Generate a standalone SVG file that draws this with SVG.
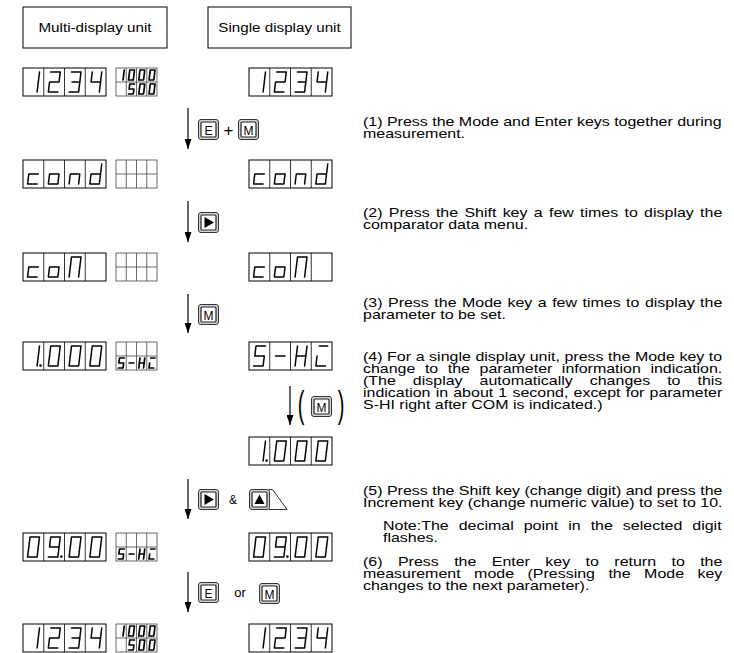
<svg xmlns="http://www.w3.org/2000/svg" xmlns:xlink="http://www.w3.org/1999/xlink" width="734" height="653" viewBox="0 0 734 653">
<style>
.t{font-family:"Liberation Sans",Arial,sans-serif;font-size:12.6px;fill:#000}
.hd{font-family:"Liberation Sans",Arial,sans-serif;font-size:13.3px;fill:#000;text-anchor:middle}
.box{fill:none;stroke:#000;stroke-width:1}
.disp{fill:#fff;stroke:#000;stroke-width:1}
.dv{stroke:#000;stroke-width:0.8}
.aux{fill:#fff;stroke:#444;stroke-width:0.8}
.adv{stroke:#444;stroke-width:0.8}
.dg{fill:none;stroke:#000;stroke-width:1.5;stroke-linejoin:round;stroke-linecap:round}
.ds{fill:none;stroke:#000;stroke-width:3.4;stroke-linejoin:round;stroke-linecap:round}
.arr{stroke:#000;stroke-width:1.2;fill:none}
.kl{font-family:"Liberation Sans",Arial,sans-serif;font-size:12px;fill:#000;text-anchor:middle}
.sym{font-family:"Liberation Sans",Arial,sans-serif;fill:#000;text-anchor:middle}
</style>
<defs>
<marker id="ah" viewBox="0 0 10 10" refX="10" refY="5" markerUnits="userSpaceOnUse" markerWidth="10" markerHeight="7" preserveAspectRatio="none" orient="auto"><path d="M0,0 L10,5 L0,10 z" fill="#000"/></marker>
<g id="g1"><polyline points="16.5,4 14.1,24"/></g>
<g id="g2"><polyline points="7,4 16.5,4 15.3,14 5.8,14 4.6,24 14.1,24"/></g>
<g id="g3"><polyline points="7,4 16.5,4 14.1,24 4.6,24"/><line x1="7.5" y1="14" x2="15.3" y2="14"/></g>
<g id="g4"><polyline points="7,4 5.8,14 15.3,14"/><line x1="16.5" y1="4" x2="14.1" y2="24"/></g>
<g id="g0"><polyline points="7,4 16.5,4 14.1,24 4.6,24 7,4"/></g>
<g id="g9"><polyline points="15.3,14 5.8,14 7,4 16.5,4 14.1,24 4.6,24"/></g>
<g id="g5"><polyline points="16.5,4 7,4 5.8,14 15.3,14 14.1,24 4.6,24"/></g>
<g id="gc"><polyline points="15.3,14 5.8,14 4.6,24 14.1,24"/></g>
<g id="go"><polyline points="5.8,14 15.3,14 14.1,24 4.6,24 5.8,14"/></g>
<g id="gn"><polyline points="4.6,24 5.8,14 15.3,14 14.1,24"/></g>
<g id="gd"><polyline points="16.5,4 14.1,24 4.6,24 5.8,14 15.3,14"/></g>
<g id="gN"><polyline points="4.6,24 7,4 16.5,4 14.1,24"/></g>
<g id="gm"><line x1="5.8" y1="14" x2="15.3" y2="14"/></g>
<g id="gH"><line x1="7" y1="4" x2="4.6" y2="24"/><line x1="16.5" y1="4" x2="14.1" y2="24"/><line x1="5.8" y1="14" x2="15.3" y2="14"/></g>
<g id="gI"><line x1="8" y1="4" x2="16.5" y2="4"/><polyline points="5.8,14 4.6,24 14.1,24"/></g>
<circle id="gdot" cx="17.6" cy="23.6" r="1.3" fill="#000" stroke="none"/>
<g id="disp"><rect class="disp" x="0" y="0" width="83" height="28"/><line class="dv" x1="20.75" y1="0" x2="20.75" y2="28"/><line class="dv" x1="41.5" y1="0" x2="41.5" y2="28"/><line class="dv" x1="62.25" y1="0" x2="62.25" y2="28"/></g>
<g id="auxg"><rect class="aux" x="0" y="0" width="41" height="28"/><line class="adv" x1="10.25" y1="0" x2="10.25" y2="28"/><line class="adv" x1="20.5" y1="0" x2="20.5" y2="28"/><line class="adv" x1="30.75" y1="0" x2="30.75" y2="28"/><line class="adv" x1="0" y1="14" x2="41" y2="14"/></g>
<g id="key"><rect x="0.5" y="0.5" width="20" height="20" rx="2.5" fill="#d4d4d4" stroke="#333" stroke-width="1"/><rect x="3" y="3" width="15" height="15" rx="1" fill="#fff" stroke="#222" stroke-width="1.2"/></g>
</defs>

<g id="header-multi"><rect class="box" x="23" y="7" width="144" height="41"/><text class="hd" transform="translate(95,31.5) scale(1.142,1)">Multi-display unit</text></g>
<g id="header-single"><rect class="box" x="208" y="7" width="143" height="41"/><text class="hd" transform="translate(279.5,31.5) scale(1.142,1)">Single display unit</text></g>

<!-- Row 1: 1234 -->
<g id="r1-multi"><use href="#disp" x="23" y="68"/><use class="dg" href="#g1" x="23" y="68"/><use class="dg" href="#g2" x="43.75" y="68"/><use class="dg" href="#g3" x="64.5" y="68"/><use class="dg" href="#g4" x="85.25" y="68"/></g>
<g id="r1-aux"><use href="#auxg" x="116" y="68"/><use class="ds" href="#g1" transform="translate(116,68) scale(0.5)"/><use class="ds" href="#g0" transform="translate(126.25,68) scale(0.5)"/><use class="ds" href="#g0" transform="translate(136.5,68) scale(0.5)"/><use class="ds" href="#g0" transform="translate(146.75,68) scale(0.5)"/><use class="ds" href="#g5" transform="translate(126.25,82) scale(0.5)"/><use class="ds" href="#g0" transform="translate(136.5,82) scale(0.5)"/><use class="ds" href="#g0" transform="translate(146.75,82) scale(0.5)"/></g>
<g id="r1-single"><use href="#disp" x="249" y="68"/><use class="dg" href="#g1" x="249" y="68"/><use class="dg" href="#g2" x="269.75" y="68"/><use class="dg" href="#g3" x="290.5" y="68"/><use class="dg" href="#g4" x="311.25" y="68"/></g>

<!-- Row 2: cond -->
<g id="r2-multi"><use href="#disp" x="23" y="160"/><use class="dg" href="#gc" x="23" y="160"/><use class="dg" href="#go" x="43.75" y="160"/><use class="dg" href="#gn" x="64.5" y="160"/><use class="dg" href="#gd" x="85.25" y="160"/></g>
<g id="r2-aux"><use href="#auxg" x="116" y="160"/></g>
<g id="r2-single"><use href="#disp" x="249" y="160"/><use class="dg" href="#gc" x="249" y="160"/><use class="dg" href="#go" x="269.75" y="160"/><use class="dg" href="#gn" x="290.5" y="160"/><use class="dg" href="#gd" x="311.25" y="160"/></g>

<!-- Row 3: coN -->
<g id="r3-multi"><use href="#disp" x="23" y="253"/><use class="dg" href="#gc" x="23" y="253"/><use class="dg" href="#go" x="43.75" y="253"/><use class="dg" href="#gN" x="64.5" y="253"/></g>
<g id="r3-aux"><use href="#auxg" x="116" y="253"/></g>
<g id="r3-single"><use href="#disp" x="249" y="253"/><use class="dg" href="#gc" x="249" y="253"/><use class="dg" href="#go" x="269.75" y="253"/><use class="dg" href="#gN" x="290.5" y="253"/></g>

<!-- Row 4: 1.000 / S-HI -->
<g id="r4-multi"><use href="#disp" x="23" y="342"/><use class="dg" href="#g1" x="23" y="342"/><use href="#gdot" x="23" y="342"/><use class="dg" href="#g0" x="43.75" y="342"/><use class="dg" href="#g0" x="64.5" y="342"/><use class="dg" href="#g0" x="85.25" y="342"/></g>
<g id="r4-aux"><use href="#auxg" x="116" y="342"/><use class="ds" href="#g5" transform="translate(116,356) scale(0.5)"/><use class="ds" href="#gm" transform="translate(126.25,356) scale(0.5)"/><use class="ds" href="#gH" transform="translate(136.5,356) scale(0.5)"/><use class="ds" href="#gI" transform="translate(146.75,356) scale(0.5)"/></g>
<g id="r4-single"><use href="#disp" x="249" y="342"/><use class="dg" href="#g5" x="249" y="342"/><use class="dg" href="#gm" x="269.75" y="342"/><use class="dg" href="#gH" x="290.5" y="342"/><use class="dg" href="#gI" x="311.25" y="342"/></g>

<!-- Row 5: single 1.000 -->
<g id="r5-single"><use href="#disp" x="249" y="437"/><use class="dg" href="#g1" x="249" y="437"/><use href="#gdot" x="249" y="437"/><use class="dg" href="#g0" x="269.75" y="437"/><use class="dg" href="#g0" x="290.5" y="437"/><use class="dg" href="#g0" x="311.25" y="437"/></g>

<!-- Row 6: 09.00 -->
<g id="r6-multi"><use href="#disp" x="23" y="533"/><use class="dg" href="#g0" x="23" y="533"/><use class="dg" href="#g9" x="43.75" y="533"/><use href="#gdot" x="43.75" y="533"/><use class="dg" href="#g0" x="64.5" y="533"/><use class="dg" href="#g0" x="85.25" y="533"/></g>
<g id="r6-aux"><use href="#auxg" x="116" y="533"/><use class="ds" href="#g5" transform="translate(116,547) scale(0.5)"/><use class="ds" href="#gm" transform="translate(126.25,547) scale(0.5)"/><use class="ds" href="#gH" transform="translate(136.5,547) scale(0.5)"/><use class="ds" href="#gI" transform="translate(146.75,547) scale(0.5)"/></g>
<g id="r6-single"><use href="#disp" x="249" y="533"/><use class="dg" href="#g0" x="249" y="533"/><use class="dg" href="#g9" x="269.75" y="533"/><use href="#gdot" x="269.75" y="533"/><use class="dg" href="#g0" x="290.5" y="533"/><use class="dg" href="#g0" x="311.25" y="533"/></g>

<!-- Row 7: 1234 -->
<g id="r7-multi"><use href="#disp" x="23" y="624"/><use class="dg" href="#g1" x="23" y="624"/><use class="dg" href="#g2" x="43.75" y="624"/><use class="dg" href="#g3" x="64.5" y="624"/><use class="dg" href="#g4" x="85.25" y="624"/></g>
<g id="r7-aux"><use href="#auxg" x="116" y="624"/><use class="ds" href="#g1" transform="translate(116,624) scale(0.5)"/><use class="ds" href="#g0" transform="translate(126.25,624) scale(0.5)"/><use class="ds" href="#g0" transform="translate(136.5,624) scale(0.5)"/><use class="ds" href="#g0" transform="translate(146.75,624) scale(0.5)"/><use class="ds" href="#g5" transform="translate(126.25,638) scale(0.5)"/><use class="ds" href="#g0" transform="translate(136.5,638) scale(0.5)"/><use class="ds" href="#g0" transform="translate(146.75,638) scale(0.5)"/></g>
<g id="r7-single"><use href="#disp" x="249" y="624"/><use class="dg" href="#g1" x="249" y="624"/><use class="dg" href="#g2" x="269.75" y="624"/><use class="dg" href="#g3" x="290.5" y="624"/><use class="dg" href="#g4" x="311.25" y="624"/></g>

<!-- Connectors -->
<g id="connectors">
<line class="arr" x1="188" y1="108" x2="188" y2="149" marker-end="url(#ah)"/>
<line class="arr" x1="188" y1="201" x2="188" y2="242" marker-end="url(#ah)"/>
<line class="arr" x1="188" y1="294" x2="188" y2="333" marker-end="url(#ah)"/>
<line class="arr" x1="290" y1="386" x2="290" y2="425" marker-end="url(#ah)"/>
<line class="arr" x1="188" y1="479" x2="188" y2="519" marker-end="url(#ah)"/>
<line class="arr" x1="188" y1="572" x2="188" y2="612" marker-end="url(#ah)"/>
</g>

<!-- Keys -->
<g id="keys1"><use href="#key" x="198" y="119"/><text class="kl" x="208.5" y="134.5">E</text><text class="sym" x="228.5" y="135.5" font-size="17">+</text><use href="#key" x="238" y="119"/><text class="kl" x="248.5" y="134.5">M</text></g>
<g id="keys2"><use href="#key" x="198" y="212"/><polygon points="204.5,217 204.5,228 214,222.5" fill="#000"/></g>
<g id="keys3"><use href="#key" x="198" y="304"/><text class="kl" x="208.5" y="319.5">M</text></g>
<g id="keys4"><text class="sym" font-size="20" transform="translate(301,417) scale(1,1.8)">(</text><use href="#key" x="311" y="396"/><text class="kl" x="321.5" y="411.5">M</text><text class="sym" font-size="20" transform="translate(341,417) scale(1,1.8)">)</text></g>
<g id="keys5"><use href="#key" x="198" y="489"/><polygon points="204.5,494 204.5,505 214,499.5" fill="#000"/><text class="sym" x="233" y="503.5" font-size="12">&amp;</text><polyline points="269,489.5 272.5,489.5 287,509.5 269,509.5" fill="none" stroke="#333" stroke-width="1"/><use href="#key" x="249" y="489"/><polygon points="254.5,504 264.5,504 259.5,494.5" fill="#000"/></g>
<g id="keys6"><use href="#key" x="198" y="582"/><text class="kl" x="208.5" y="597.5">E</text><text class="sym" x="240" y="597" font-size="13">or</text><use href="#key" x="259" y="583"/><text class="kl" x="269.5" y="598.5">M</text></g>

<!-- Step texts -->
<g id="step1"><text class="t" transform="translate(363,126) scale(1.269,1)"><tspan x="0" y="0">(1) Press the Mode and Enter keys together during</tspan><tspan x="0" y="12">measurement.</tspan></text></g>
<g id="step2"><text class="t" transform="translate(363,217) scale(1.269,1)"><tspan x="0" y="0" word-spacing="1.46">(2) Press the Shift key a few times to display the</tspan><tspan x="0" y="12">comparator data menu.</tspan></text></g>
<g id="step3"><text class="t" transform="translate(363,307) scale(1.269,1)"><tspan x="0" y="0" word-spacing="0.83">(3) Press the Mode key a few times to display the</tspan><tspan x="0" y="12">parameter to be set.</tspan></text></g>
<g id="step4"><text class="t" transform="translate(363,361) scale(1.269,1)"><tspan x="0" y="0" word-spacing="0.12">(4) For a single display unit, press the Mode key to</tspan><tspan x="0" y="12" word-spacing="4.03">change to the parameter information indication.</tspan><tspan x="0" y="24" word-spacing="9.91">(The display automatically changes to this</tspan><tspan x="0" y="36" word-spacing="0.58">indication in about 1 second, except for parameter</tspan><tspan x="0" y="48">S-HI right after COM is indicated.)</tspan></text></g>
<g id="step5"><text class="t" transform="translate(363,495) scale(1.269,1)"><tspan x="0" y="0">(5) Press the Shift key (change digit) and press the</tspan><tspan x="0" y="12">Increment key (change numeric value) to set to 10.</tspan></text></g>
<g id="note"><text class="t" transform="translate(383,530) scale(1.269,1)"><tspan x="0" y="0" word-spacing="4.37">Note:The decimal point in the selected digit</tspan><tspan x="0" y="12">flashes.</tspan></text></g>
<g id="step6"><text class="t" transform="translate(363,566) scale(1.269,1)"><tspan x="0" y="0" word-spacing="8.65">(6) Press the Enter key to return to the</tspan><tspan x="0" y="12" word-spacing="7.12">measurement mode (Pressing the Mode key</tspan><tspan x="0" y="24">changes to the next parameter).</tspan></text></g>
</svg>
